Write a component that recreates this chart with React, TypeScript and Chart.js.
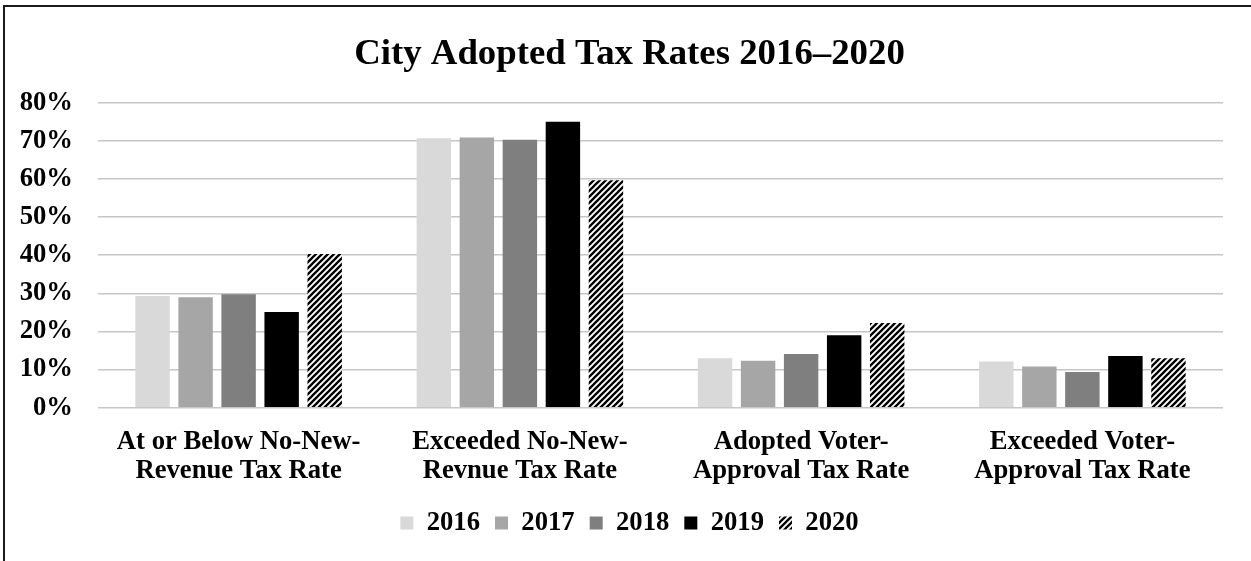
import React, { useEffect, useRef } from "react";
import { Chart, registerables } from "chart.js";

Chart.register(...registerables);

const categories: string[][] = [
  ["At or Below No-New-", "Revenue Tax Rate"],
  ["Exceeded No-New-", "Revnue Tax Rate"],
  ["Adopted Voter-", "Approval Tax Rate"],
  ["Exceeded Voter-", "Approval Tax Rate"],
];
const seriesNames = ["2016", "2017", "2018", "2019", "2020"];
const values2016 = [29.3, 70.7, 13.0, 12.1];
const values2017 = [29.0, 70.9, 12.3, 10.8];
const values2018 = [29.8, 70.3, 14.1, 9.4];
const values2019 = [25.1, 75.0, 19.0, 13.6];
const values2020 = [40.3, 59.7, 22.2, 13.0];
const yTicks = [0, 10, 20, 30, 40, 50, 60, 70, 80];
const titleText = "City Adopted Tax Rates 2016\u20132020";

const FONT = "'Liberation Serif', 'Times New Roman', serif";

function makeHatch(): CanvasPattern | string {
  const s = 6;
  const c = document.createElement("canvas");
  c.width = s;
  c.height = s;
  const ctx = c.getContext("2d");
  if (!ctx) return "#000";
  ctx.fillStyle = "#fff";
  ctx.fillRect(0, 0, s, s);
  ctx.strokeStyle = "#000";
  ctx.lineWidth = 2.3;
  ctx.lineCap = "square";
  ctx.beginPath();
  ctx.moveTo(-1, s + 1);
  ctx.lineTo(s + 1, -1);
  ctx.moveTo(-1, 1);
  ctx.lineTo(1, -1);
  ctx.moveTo(s - 1, s + 1);
  ctx.lineTo(s + 1, s - 1);
  ctx.stroke();
  const p = ctx.createPattern(c, "repeat");
  return p || "#000";
}

// shifts the full-width title and legend so they are centred on the canvas
const centreBlocks = {
  id: "centreBlocks",
  afterLayout(chart: any) {
    const shift = 13;
    const blocks = [chart.titleBlock, chart.legend];
    blocks.forEach((b: any) => {
      if (b) {
        b.left += shift;
        b.right += shift;
      }
    });
  },
};

export default function App() {
  const ref = useRef<HTMLCanvasElement | null>(null);

  useEffect(() => {
    if (!ref.current) return;
    const hatch = makeHatch();
    const colors: (string | CanvasPattern)[] = ["#d9d9d9", "#a6a6a6", "#7f7f7f", "#000000", hatch];
    const seriesValues = [values2016, values2017, values2018, values2019, values2020];
    const chart = new Chart(ref.current, {
      type: "bar",
      data: {
        labels: categories,
        datasets: seriesNames.map((name, i) => ({
          label: name,
          data: seriesValues[i],
          backgroundColor: colors[i] as any,
          borderWidth: 0,
          categoryPercentage: 0.765,
          barPercentage: 0.8,
        })),
      },
      options: {
        animation: false,
        responsive: false,
        devicePixelRatio: 1,
        layout: { padding: { left: 10, right: 28, top: 0, bottom: 14.6 } },
        plugins: {
          title: {
            display: true,
            text: titleText,
            color: "#000",
            font: { family: FONT, size: 36.8, weight: "bold", lineHeight: 1.2 },
            padding: { top: 32, bottom: 26.6 },
          },
          legend: {
            display: true,
            position: "bottom",
            labels: {
              color: "#000",
              boxWidth: 13,
              boxHeight: 13,
              padding: 15,
              font: { family: FONT, size: 26.67, weight: "bold", lineHeight: 1.2 },
            },
          },
          tooltip: { enabled: false },
        },
        scales: {
          x: {
            grid: { display: false },
            border: { display: false },
            ticks: {
              color: "#000",
              padding: 11.4,
              maxRotation: 0,
              autoSkip: false,
              font: { family: FONT, size: 26.67, weight: "bold", lineHeight: 1.1 },
            },
            afterFit: (scale: any) => {
              scale.height = 87;
            },
          },
          y: {
            min: yTicks[0],
            max: yTicks[yTicks.length - 1],
            grid: { color: "#c6c6c6", lineWidth: 1.5, drawTicks: false },
            border: { display: false },
            ticks: {
              stepSize: 10,
              color: "#000",
              padding: 25,
              font: { family: FONT, size: 26.67, weight: "bold" },
              callback: (v: any) => v + "%",
            },
            afterFit: (scale: any) => {
              scale.width = 88;
            },
          },
        },
      },
      plugins: [centreBlocks],
    });
    return () => chart.destroy();
  }, []);

  return (
    <div
      style={{
        position: "fixed",
        left: 0,
        top: 0,
        width: 1251,
        height: 561,
        overflow: "hidden",
        background: "#fff",
      }}
    >
      <div
        style={{
          position: "absolute",
          left: 3,
          top: 5,
          width: 1400,
          height: 700,
          border: "2px solid #1a1a1a",
        }}
      />
      <canvas
        ref={ref}
        width={1251}
        height={561}
        style={{ position: "absolute", left: 0, top: 0, width: 1251, height: 561 }}
      />
    </div>
  );
}
